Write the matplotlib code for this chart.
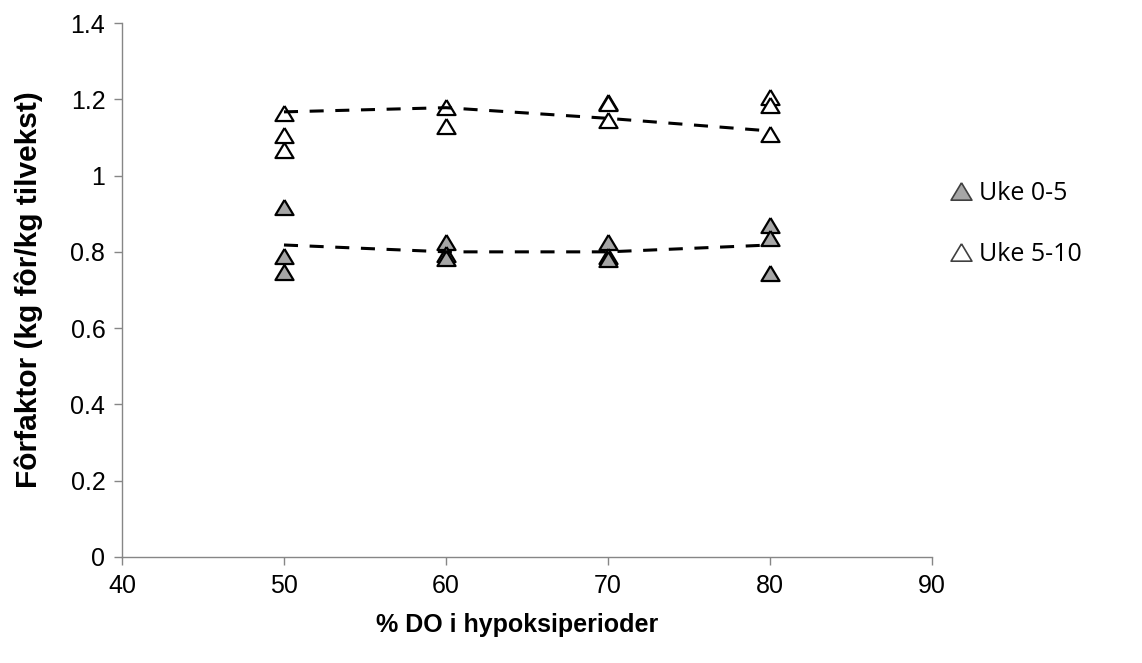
import matplotlib
matplotlib.use("Agg")
import matplotlib.pyplot as plt
from matplotlib.lines import Line2D

# DO levels (x) and replicate values
do_levels = [50, 60, 70, 80]
uke05_x = [50, 50, 50, 60, 60, 60, 70, 70, 70, 80, 80, 80]
uke05_y = [0.917, 0.790, 0.748, 0.825, 0.795, 0.785, 0.827, 0.789, 0.780, 0.871, 0.837, 0.744]
uke510_x = [50, 50, 50, 60, 60, 70, 70, 70, 80, 80, 80]
uke510_y = [1.165, 1.107, 1.067, 1.181, 1.129, 1.194, 1.190, 1.146, 1.206, 1.186, 1.109]
# dashed trend lines
trend05 = [0.818, 0.800, 0.800, 0.818]
trend510 = [1.167, 1.178, 1.150, 1.117]

xticks = [40, 50, 60, 70, 80, 90]
yticks = [0, 0.2, 0.4, 0.6, 0.8, 1, 1.2, 1.4]
yticklabels = ["0", "0.2", "0.4", "0.6", "0.8", "1", "1.2", "1.4"]

plt.rcParams['font.family'] = ['Liberation Sans', 'DejaVu Sans']

tri = [(0, 1), (-1.2, -1), (1.2, -1), (0, 1)]

fig = plt.figure(figsize=(11.42, 6.63), dpi=100)
ax = fig.add_axes([0.1068, 0.1599, 0.8161 - 0.1068, 0.9653 - 0.1599])

dash = (0, (4.6, 3.8))
ax.plot(do_levels, trend510, linestyle=dash, color='black', lw=2.2, zorder=3)
ax.plot(do_levels, trend05, linestyle=dash, color='black', lw=2.2, zorder=3)

ax.plot(uke05_x, uke05_y, linestyle='none', marker=tri, ms=13,
        markerfacecolor='#a6a6a6', markeredgecolor='black', markeredgewidth=1.6, zorder=2)
ax.plot(uke510_x, uke510_y, linestyle='none', marker=tri, ms=13,
        markerfacecolor='white', markeredgecolor='black', markeredgewidth=1.6, zorder=2)

ax.set_xlim(40, 90)
ax.set_ylim(0, 1.4)
ax.set_xticks(xticks)
ax.set_xticklabels([str(v) for v in xticks])
ax.set_yticks(yticks)
ax.set_yticklabels(yticklabels)

for s in ['top', 'right']:
    ax.spines[s].set_visible(False)
for s in ['left', 'bottom']:
    ax.spines[s].set_color('#868686')
    ax.spines[s].set_linewidth(1.0)
ax.tick_params(axis='both', direction='out', length=6, width=1.0, color='#868686',
               labelsize=18, pad=6)

ax.set_xlabel('% DO i hypoksiperioder', fontsize=18, fontweight='bold', labelpad=10)
ax.xaxis.set_label_coords(0.488, -0.105)
ax.set_ylabel('Fôrfaktor (kg fôr/kg tilvekst)', fontsize=21.5, fontweight='bold', labelpad=20)

handles = [
    Line2D([], [], linestyle='none', marker=tri, ms=15, markerfacecolor='#a6a6a6',
           markeredgecolor='#404040', markeredgewidth=1.2),
    Line2D([], [], linestyle='none', marker=tri, ms=15, markerfacecolor='white',
           markeredgecolor='#404040', markeredgewidth=1.2),
]
leg = fig.legend(handles, ['Uke 0-5', 'Uke 5-10'], loc='upper left',
                 bbox_to_anchor=(0.808, 0.761), frameon=False,
                 prop={'family': ['Open Sans', 'DejaVu Sans'], 'size': 18},
                 handletextpad=0.05, labelspacing=1.45, handlelength=1.3)

fig.savefig('out.png', dpi=100)
